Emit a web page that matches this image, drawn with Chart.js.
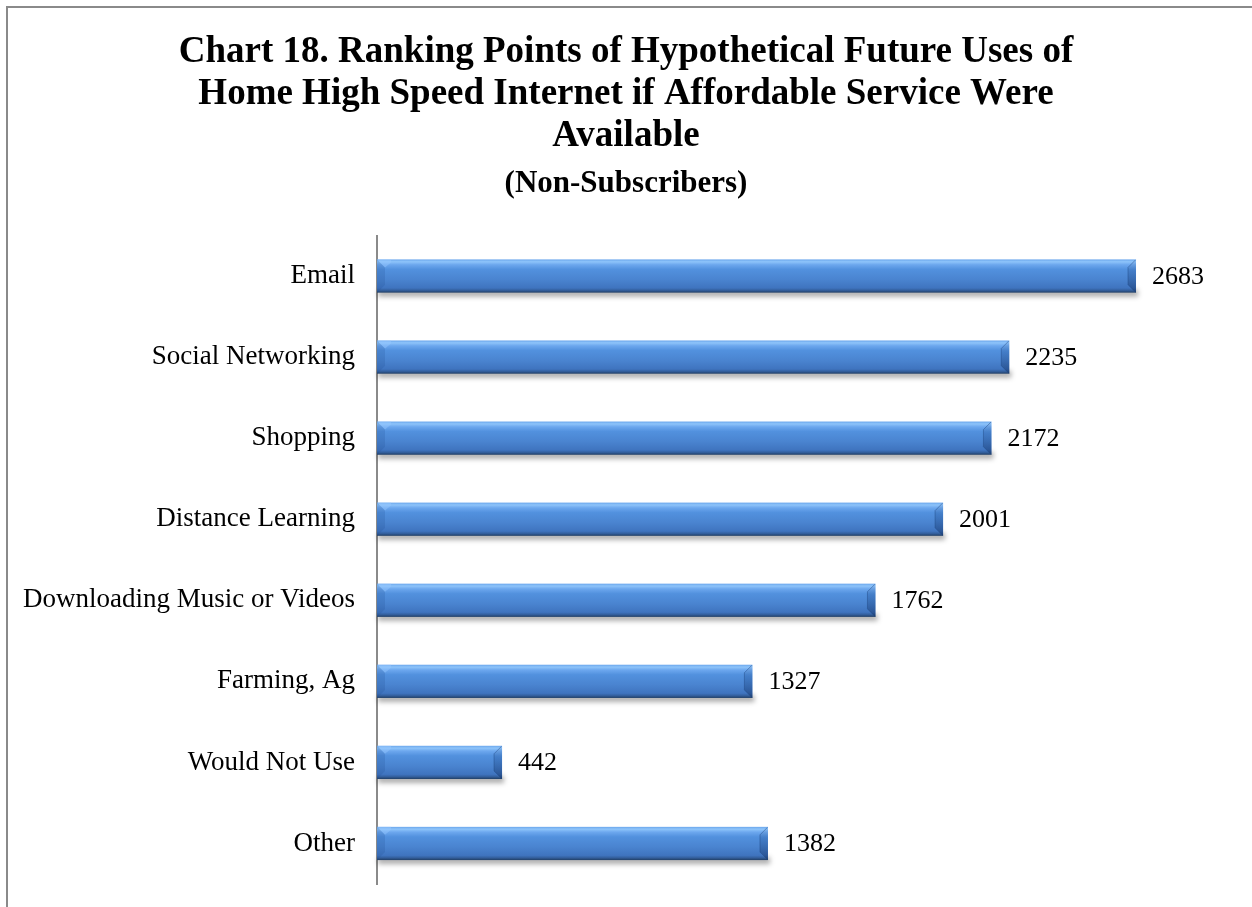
<!DOCTYPE html>
<html>
<head>
<meta charset="utf-8">
<title>Chart 18</title>
<script src="https://cdn.jsdelivr.net/npm/chart.js@4.4.0/dist/chart.umd.min.js"></script>
<style>
  html, body { margin:0; padding:0; background:#fff; overflow:hidden; }
  .frame { position:absolute; left:6px; top:6px; width:1400px; height:1000px; border:2px solid #8a8a8a; }
  .wrap { position:absolute; left:0; top:0; width:1252px; height:907px; }
</style>
</head>
<body>
<div class="frame"></div>
<div class="wrap"><canvas id="chart18"></canvas></div>
<script>
// Ranking points per use, non-subscribers
const categories = [
  'Email',
  'Social Networking',
  'Shopping',
  'Distance Learning',
  'Downloading Music or Videos',
  'Farming, Ag',
  'Would Not Use',
  'Other'
];
const points = [2683, 2235, 2172, 2001, 1762, 1327, 442, 1382];

const titleLines = [
  'Chart 18. Ranking Points of Hypothetical Future Uses of',
  'Home High Speed Internet if Affordable Service Were',
  'Available'
];
const subtitleText = '(Non-Subscribers)';

const SERIF = '"Liberation Serif", "Times New Roman", serif';

// beveled blue bar, Excel style
function paintBar(ctx, x0, x1, yc, h){
  const yT = yc - h/2, yB = yc + h/2, w = x1 - x0;
  if (w <= 0) return;

  // soft drop shadow under the bar
  ctx.save();
  ctx.filter = 'blur(2.5px)';
  ctx.fillStyle = 'rgba(0,0,0,0.32)';
  ctx.fillRect(x0 + 1, yB - 3, w + 1, 7);
  ctx.restore();

  // body
  const g = ctx.createLinearGradient(0, yT, 0, yB);
  g.addColorStop(0.00, '#6aa6ec');
  g.addColorStop(0.07, '#8ec4fa');
  g.addColorStop(0.16, '#6ca7ee');
  g.addColorStop(0.30, '#5291de');
  g.addColorStop(0.60, '#4a84d0');
  g.addColorStop(0.86, '#3f74bf');
  g.addColorStop(0.93, '#335f9d');
  g.addColorStop(1.00, '#213f66');
  ctx.fillStyle = g;
  ctx.fillRect(x0, yT, w, h);

  const b = Math.min(8, w/2, h/2);

  // left face
  ctx.beginPath();
  ctx.moveTo(x0, yT);
  ctx.lineTo(x0 + b, yT + b);
  ctx.lineTo(x0 + b, yB - b);
  ctx.lineTo(x0, yB);
  ctx.closePath();
  ctx.fillStyle = 'rgba(30,70,140,0.18)';
  ctx.fill();

  // top-left light wedge
  ctx.beginPath();
  ctx.moveTo(x0, yT);
  ctx.lineTo(x0 + b, yT + b);
  ctx.lineTo(x0 + b + 6, yT + 3);
  ctx.lineTo(x0 + b + 6, yT);
  ctx.closePath();
  ctx.fillStyle = 'rgba(150,200,255,0.45)';
  ctx.fill();

  // right face
  const gr = ctx.createLinearGradient(0, yT, 0, yB);
  gr.addColorStop(0, 'rgba(140,190,245,0.55)');
  gr.addColorStop(0.35, 'rgba(40,90,160,0.35)');
  gr.addColorStop(1, 'rgba(20,50,100,0.55)');
  ctx.beginPath();
  ctx.moveTo(x1, yT);
  ctx.lineTo(x1 - b, yT + b);
  ctx.lineTo(x1 - b, yB - b);
  ctx.lineTo(x1, yB);
  ctx.closePath();
  ctx.fillStyle = gr;
  ctx.fill();

  // right diagonal edges
  ctx.strokeStyle = 'rgba(30,70,130,0.45)';
  ctx.lineWidth = 1;
  ctx.beginPath();
  ctx.moveTo(x1 - 0.5, yT + 0.5);
  ctx.lineTo(x1 - b, yT + b);
  ctx.lineTo(x1 - b, yB - b);
  ctx.lineTo(x1 - 0.5, yB - 0.5);
  ctx.stroke();
}

const bevelBars = {
  id: 'bevelBars',
  afterDatasetsDraw(chart){
    const ctx = chart.ctx;
    const meta = chart.getDatasetMeta(0);
    meta.data.forEach((bar, i) => {
      const p = bar.getProps(['x', 'y', 'base', 'height'], true);
      paintBar(ctx, p.base, p.x, p.y, p.height);

      // value label
      ctx.save();
      ctx.fillStyle = '#000';
      ctx.font = '26px ' + SERIF;
      ctx.textAlign = 'left';
      ctx.textBaseline = 'middle';
      ctx.fillText(String(points[i]), p.x + 16, p.y + 1);
      ctx.restore();
    });
  }
};

new Chart(document.getElementById('chart18'), {
  type: 'bar',
  data: {
    labels: categories,
    datasets: [{
      data: points,
      backgroundColor: 'rgba(0,0,0,0)',
      borderWidth: 0,
      categoryPercentage: 1,
      barPercentage: 0.41
    }]
  },
  options: {
    indexAxis: 'y',
    responsive: true,
    maintainAspectRatio: false,
    animation: false,
    layout: { padding: { left: 0, right: 0, top: 0, bottom: 23 } },
    plugins: {
      legend: { display: false },
      tooltip: { enabled: false },
      title: {
        display: true,
        text: titleLines,
        color: '#000',
        font: { family: SERIF, size: 37, weight: 'bold', lineHeight: 42/37 },
        padding: { top: 31, bottom: 0 }
      },
      subtitle: {
        display: true,
        text: subtitleText,
        color: '#000',
        font: { family: SERIF, size: 31, weight: 'bold', lineHeight: 32/31 },
        padding: { top: 11, bottom: 35.5 }
      }
    },
    scales: {
      x: { display: false, min: 0, max: 3093 },
      y: {
        grid: { display: false, drawTicks: false },
        border: { display: true, color: '#8a8a8a', width: 2 },
        ticks: { color: '#000', font: { family: SERIF, size: 27 }, padding: 22 },
        afterFit(scale){
          scale.width = 377;
          // tick padding should not eat into the plot height
          scale.paddingTop = 0;
          scale.paddingBottom = 0;
        }
      }
    }
  },
  plugins: [bevelBars]
});
</script>
</body>
</html>
